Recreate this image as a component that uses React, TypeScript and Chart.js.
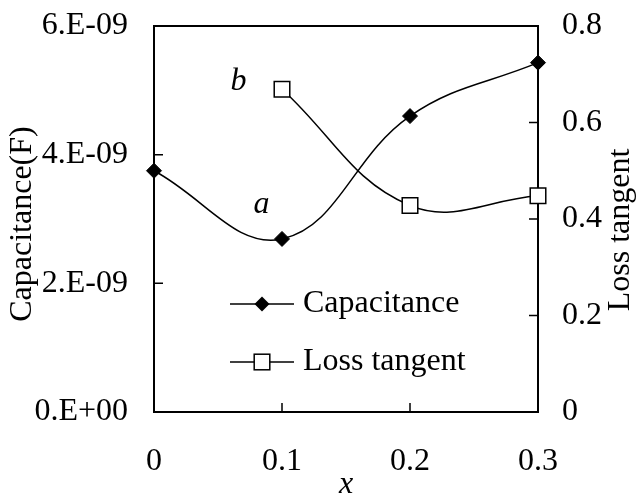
import React, { useEffect, useRef } from 'react';
import { Chart, registerables } from 'chart.js';
Chart.register(...registerables);

const xValues = [0, 0.1, 0.2, 0.3];
const capacitance = [3.75e-9, 2.69e-9, 4.6e-9, 5.43e-9];
const lossX = [0.1, 0.2, 0.3];
const lossTangent = [0.669, 0.428, 0.448];
const xTickLabels = ['0', '0.1', '0.2', '0.3'];
const leftTickLabels = ['0.E+00', '2.E-09', '4.E-09', '6.E-09'];
const rightTickLabels = ['0', '0.2', '0.4', '0.6', '0.8'];
const seriesNames = ['Capacitance', 'Loss tangent'];
const axisTitles = { x: 'x', left: 'Capacitance(F)', right: 'Loss tangent' };
const curveLabels = [
  { text: 'a', x: 0.084, y: 3.22e-9, axis: 'y' },
  { text: 'b', x: 0.066, y: 0.684, axis: 'y1' },
];

const FONT = '"Liberation Serif", "Times New Roman", serif';

function drawDiamond(ctx: CanvasRenderingContext2D, x: number, y: number, r: number) {
  ctx.beginPath();
  ctx.moveTo(x - r, y);
  ctx.lineTo(x, y - r);
  ctx.lineTo(x + r, y);
  ctx.lineTo(x, y + r);
  ctx.closePath();
  ctx.fillStyle = '#000';
  ctx.fill();
}
function drawSquare(ctx: CanvasRenderingContext2D, x: number, y: number, h: number) {
  ctx.fillStyle = '#fff';
  ctx.fillRect(x - h, y - h, 2 * h, 2 * h);
  ctx.strokeStyle = '#000';
  ctx.lineWidth = 1.5;
  ctx.strokeRect(x - h, y - h, 2 * h, 2 * h);
}

const framePlugin = {
  id: 'frame',
  beforeDatasetsDraw(chart: any) {
    const { ctx, chartArea: a, scales } = chart;
    ctx.save();
    ctx.strokeStyle = '#000';
    ctx.lineWidth = 2;
    ctx.strokeRect(a.left, a.top, a.right - a.left, a.bottom - a.top);
    ctx.lineWidth = 1.5;
    const L = 9;
    ctx.beginPath();
    scales.x.ticks.forEach((t: any) => {
      const px = scales.x.getPixelForValue(t.value);
      ctx.moveTo(px, a.bottom);
      ctx.lineTo(px, a.bottom - L);
    });
    scales.y.ticks.forEach((t: any) => {
      const py = scales.y.getPixelForValue(t.value);
      ctx.moveTo(a.left, py);
      ctx.lineTo(a.left + L, py);
    });
    scales.y1.ticks.forEach((t: any) => {
      const py = scales.y1.getPixelForValue(t.value);
      ctx.moveTo(a.right, py);
      ctx.lineTo(a.right - L, py);
    });
    ctx.stroke();
    ctx.restore();
  },
  afterDraw(chart: any) {
    const { ctx, chartArea: a, scales } = chart;
    ctx.save();
    ctx.fillStyle = '#000';
    ctx.font = `32px ${FONT}`;
    ctx.textAlign = 'center';
    ctx.textBaseline = 'middle';
    ctx.save();
    ctx.translate(23, 224);
    ctx.rotate(-Math.PI / 2);
    ctx.fillText(axisTitles.left, 0, 0);
    ctx.restore();
    ctx.save();
    ctx.translate(621, 230);
    ctx.rotate(-Math.PI / 2);
    ctx.fillText(axisTitles.right, 0, 0);
    ctx.restore();
    ctx.font = `italic 32px ${FONT}`;
    ctx.fillText(axisTitles.x, (a.left + a.right) / 2, 485);
    curveLabels.forEach((c) => {
      ctx.fillText(c.text, scales.x.getPixelForValue(c.x), scales[c.axis].getPixelForValue(c.y));
    });
    ctx.font = `32px ${FONT}`;
    ctx.textAlign = 'left';
    const rows = [304, 362];
    rows.forEach((yy, i) => {
      ctx.strokeStyle = '#000';
      ctx.lineWidth = 1.5;
      ctx.beginPath();
      ctx.moveTo(230, yy);
      ctx.lineTo(294, yy);
      ctx.stroke();
      if (i === 0) drawDiamond(ctx, 262, yy, 7.5);
      else drawSquare(ctx, 262, yy, 7.8);
      ctx.fillStyle = '#000';
      ctx.fillText(seriesNames[i], 303, yy);
    });
    ctx.restore();
  },
};

const fitY = (w: number) => (s: any) => {
  s.width = w;
  s.paddingTop = 0;
  s.paddingBottom = 0;
};

export default function App() {
  const ref = useRef<HTMLCanvasElement | null>(null);
  useEffect(() => {
    if (!ref.current) return;
    const tickFont = { family: FONT, size: 32 };
    const chart = new Chart(ref.current, {
      type: 'line',
      data: {
        datasets: [
          {
            label: seriesNames[0],
            data: xValues.map((x, i) => ({ x, y: capacitance[i] })),
            yAxisID: 'y',
            borderColor: '#000',
            borderWidth: 1.5,
            tension: 0.4,
            pointStyle: 'rectRot',
            pointRadius: 7.5,
            pointBackgroundColor: '#000',
            pointBorderColor: '#000',
            pointBorderWidth: 1,
            clip: false as any,
          },
          {
            label: seriesNames[1],
            data: lossX.map((x, i) => ({ x, y: lossTangent[i] })),
            yAxisID: 'y1',
            borderColor: '#000',
            borderWidth: 1.5,
            tension: 0.4,
            pointStyle: 'rect',
            pointRadius: 11,
            pointBackgroundColor: '#fff',
            pointBorderColor: '#000',
            pointBorderWidth: 1.5,
            clip: false as any,
          },
        ],
      },
      options: {
        animation: false,
        responsive: true,
        maintainAspectRatio: false,
        layout: { padding: { top: 26, left: 0, right: 0, bottom: 0 } },
        plugins: { legend: { display: false }, tooltip: { enabled: false } },
        scales: {
          x: {
            type: 'linear',
            min: 0,
            max: 0.3,
            grid: { display: false, drawTicks: false },
            border: { display: false },
            afterFit: (s: any) => {
              s.height = 87;
              s.paddingLeft = 0;
              s.paddingRight = 0;
            },
            ticks: {
              stepSize: 0.1,
              autoSkip: false,
              maxRotation: 0,
              padding: 30,
              color: '#000',
              font: tickFont,
              callback: (_v: any, i: number) => xTickLabels[i],
            },
          },
          y: {
            type: 'linear',
            position: 'left',
            min: 0,
            max: 6e-9,
            grid: { display: false, drawTicks: false },
            border: { display: false },
            afterFit: fitY(154),
            ticks: {
              stepSize: 2e-9,
              padding: 26,
              color: '#000',
              font: tickFont,
              callback: (_v: any, i: number) => leftTickLabels[i],
            },
          },
          y1: {
            type: 'linear',
            position: 'right',
            min: 0,
            max: 0.8,
            grid: { display: false, drawTicks: false },
            border: { display: false },
            afterFit: fitY(101),
            ticks: {
              stepSize: 0.2,
              padding: 24,
              color: '#000',
              font: tickFont,
              callback: (_v: any, i: number) => rightTickLabels[i],
            },
          },
        },
      },
      plugins: [framePlugin],
    });
    return () => chart.destroy();
  }, []);
  return (
    <div style={{ position: 'fixed', left: 0, top: 0, width: 639, height: 499 }}>
      <canvas ref={ref} />
    </div>
  );
}
